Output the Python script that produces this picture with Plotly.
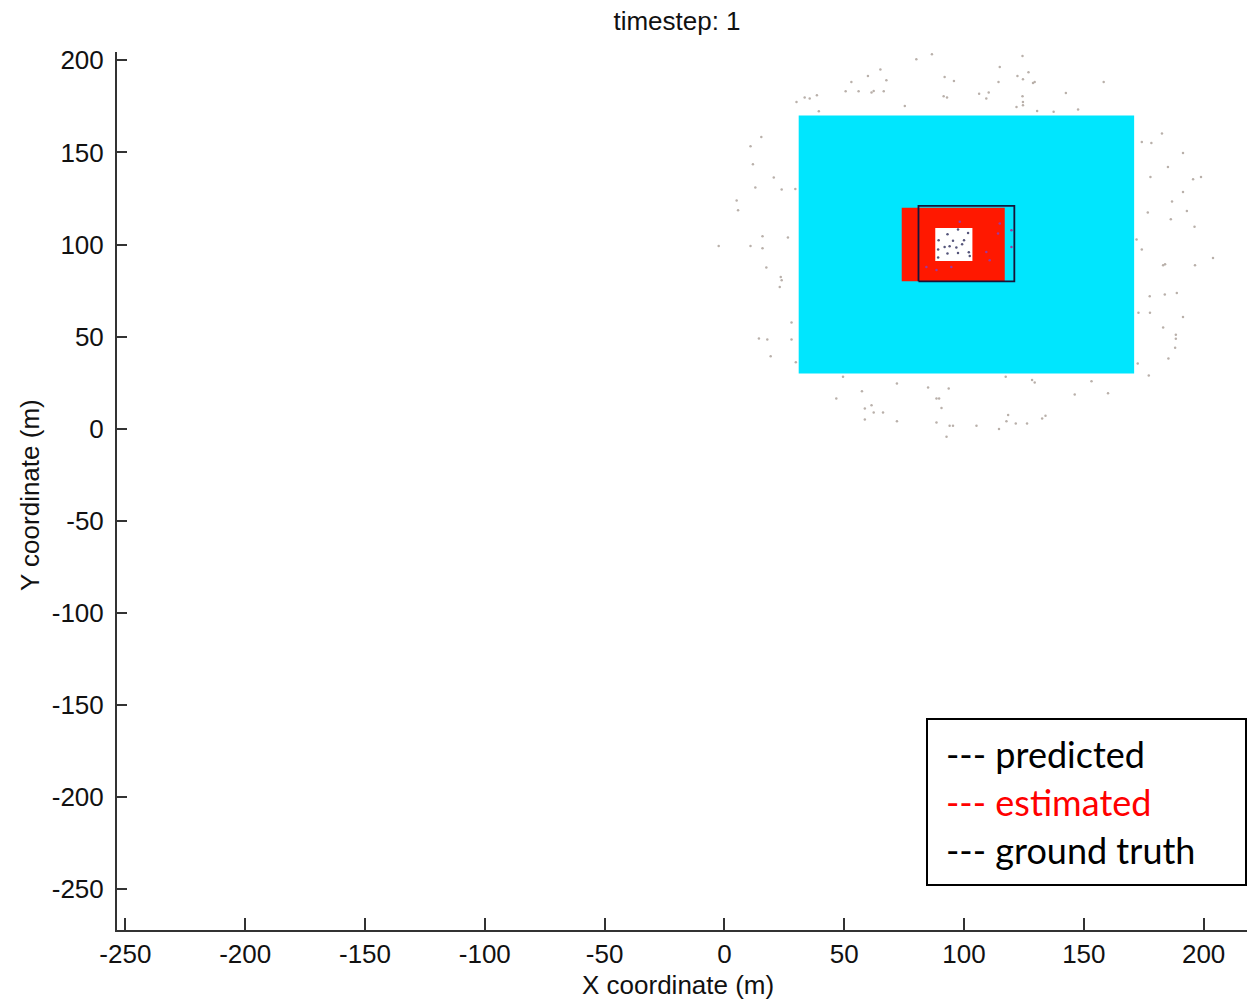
import plotly.graph_objects as go

# ---- data (metres) ----
predicted_box = [31, 171, 30, 170]      # x0, x1, y0, y1 (cyan, predicted region)
estimated_box = [74, 117, 80, 120]      # red, estimated region
truth_box = [81, 121, 80, 121]          # black outline, ground truth
inner_box = [88, 103.5, 91, 109]        # white inner region

particles_x = [30.1, 33.5, 35.6, 38.6, 39.4, 50.6, 53.0, 56.0, 59.9, 61.4, 62.3, 65.1, 66.5, 67.6, 75.3,
               80.1, 86.6, 91.9, 91.5, 92.9, 95.8, 106.3, 109.3, 110.3, 114.4, 114.9, 122.3, 124.4, 124.6,
               126.9, 128.8, 129.5, 124.4, 124.6, 124.6, 121.9, 130.5, 137.4, 142.5, 147.6, 158.3,
               15.4, 10.9, 11.9, 20.6, 12.9, 23.9, 29.6, 5.1, 5.7, 15.9, 26.5, -2.4, 10.9, 15.9, 17.5, 23.5,
               23.9, 23.1, 28.0, 14.4, 17.9, 28.0, 19.3, 29.8,
               182.6, 174.2, 178.2, 191.4, 185.1, 177.8, 195.6, 198.9, 191.4, 186.8, 193.0, 176.7, 186.3,
               196.2, 172.0, 174.2, 203.9, 183.1, 183.9, 196.4, 177.5, 183.8, 188.8, 172.8, 177.6, 191.4,
               183.1, 188.4, 188.4, 188.1, 185.3, 172.5, 177.1,
               49.5, 72.0, 57.4, 85.0, 93.6, 117.4, 128.4, 129.5, 153.2, 160.1, 146.2, 46.7, 88.5, 89.6,
               90.6, 61.4, 58.6, 62.3, 66.2, 58.6, 72.0, 88.5, 94.0, 95.4, 92.7, 105.2, 114.6, 118.4, 117.7,
               121.6, 126.3, 132.6, 134.0]
particles_y = [177.4, 179.8, 179.2, 181.0, 172.3, 183.2, 188.2, 183.2, 191.5, 182.5, 183.3, 195.0, 183.2,
               189.1, 175.2, 200.5, 203.3, 190.9, 180.5, 179.8, 188.8, 181.9, 179.2, 182.5, 188.2, 196.4,
               191.5, 202.3, 189.7, 193.5, 187.7, 188.2, 180.5, 177.4, 175.6, 174.7, 172.5, 172.0, 182.3,
               173.3, 188.2,
               158.4, 153.3, 143.6, 136.4, 130.9, 129.8, 130.2, 123.9, 118.6, 104.5, 103.8, 99.2, 99.2, 98.0,
               87.5, 82.4, 80.6, 77.0, 57.7, 49.0, 48.5, 48.5, 39.4, 36.1,
               160.2, 155.7, 155.1, 149.7, 142.1, 136.7, 135.4, 136.7, 128.5, 123.3, 118.2, 117.4, 113.7,
               109.6, 102.7, 97.3, 92.7, 88.8, 89.3, 88.8, 71.9, 72.9, 73.7, 62.9, 62.9, 60.7, 55.0, 51.0,
               48.8, 43.9, 38.1, 35.4, 28.9,
               28.2, 24.6, 20.4, 22.4, 21.9, 28.2, 26.4, 25.1, 25.8, 19.2, 18.6, 16.4, 16.4, 16.4, 11.3,
               12.8, 11.0, 8.8, 8.8, 5.0, 4.1, 3.4, 1.6, 1.6, -4.4, 1.6, -0.2, 7.4, 4.1, 2.9, 2.9, 5.6, 7.0]

inner_x = [93.1, 97.5, 101.7, 89.4, 95.4, 100.0, 91.9, 94.0, 96.8, 99.2, 89.2, 93.1, 97.5, 102.0, 89.2, 102.4]
inner_y = [105.6, 108.1, 106.3, 102.3, 102.0, 102.3, 98.7, 99.1, 98.4, 100.2, 97.3, 95.1, 95.4, 95.8, 92.9, 93.7]

red_x = [98.2, 114.2, 110.7, 94.7, 88.5, 84.3, 109.3, 114.9, 119.8, 119.8]
red_y = [112.3, 106.0, 91.5, 87.8, 86.1, 87.8, 96.0, 111.4, 107.8, 98.7]

x_ticks = [-250, -200, -150, -100, -50, 0, 50, 100, 150, 200]
y_ticks = [200, 150, 100, 50, 0, -50, -100, -150, -200, -250]
x_range = [-253.5, 218.1]
y_range = [-272.1, 204.5]

legend_lines = [("--- predicted", "#000000"), ("--- estimated", "#ff0000"), ("--- ground truth", "#000000")]

# ---- figure ----
fig = go.Figure()

fig.add_trace(go.Scatter(x=particles_x, y=particles_y, mode="markers",
                         marker=dict(size=2.5, color="#b9b0aa"), hoverinfo="skip", showlegend=False))

def rect(box, fill, line_color=None, width=0):
    fig.add_shape(type="rect", xref="x", yref="y", x0=box[0], x1=box[1], y0=box[2], y1=box[3],
                  fillcolor=fill, line=dict(color=line_color or fill, width=width), layer="below")

rect(predicted_box, "#00e6fe")
rect(estimated_box, "#ff1800")
rect(inner_box, "#ffffff")

fig.add_trace(go.Scatter(x=[truth_box[0], truth_box[1], truth_box[1], truth_box[0], truth_box[0]],
                         y=[truth_box[2], truth_box[2], truth_box[3], truth_box[3], truth_box[2]],
                         mode="lines", line=dict(color="#15153a", width=1.8),
                         hoverinfo="skip", showlegend=False))

fig.add_trace(go.Scatter(x=inner_x, y=inner_y, mode="markers",
                         marker=dict(size=2.5, color="#55557a"), hoverinfo="skip", showlegend=False))
fig.add_trace(go.Scatter(x=red_x, y=red_y, mode="markers",
                         marker=dict(size=2.5, color="#9a3aa0"), hoverinfo="skip", showlegend=False))

tickfont = dict(family="Liberation Sans, Arial, sans-serif", size=26, color="#111111")

fig.update_xaxes(range=x_range, tickvals=x_ticks, ticktext=[str(v) for v in x_ticks],
                 showgrid=False, zeroline=False, showline=True, linecolor="#333333", linewidth=2,
                 ticks="inside", ticklen=12, tickwidth=2, tickcolor="#333333",
                 tickfont=tickfont, ticklabelstandoff=0)
fig.update_yaxes(range=y_range, tickvals=y_ticks, ticktext=[str(v) for v in y_ticks],
                 showgrid=False, zeroline=False, showline=True, linecolor="#333333", linewidth=2,
                 ticks="inside", ticklen=10, tickwidth=2, tickcolor="#333333",
                 tickfont=tickfont, ticklabelstandoff=6)

fig.update_layout(
    width=1247, height=1001,
    margin=dict(l=117, r=0, t=52, b=71),
    paper_bgcolor="white", plot_bgcolor="white",
    title=dict(text="timestep: 1", x=677 / 1247, xanchor="center", y=1 - 21 / 1001, yanchor="middle",
               yref="container", xref="container",
               font=dict(family="Liberation Sans, Arial, sans-serif", size=26, color="#111111")),
    showlegend=False,
)

fig.add_annotation(text="X coordinate (m)", xref="paper", yref="paper", x=(678 - 117) / 1130,
                   y=-(985 - 930) / 878, xanchor="center", yanchor="middle", showarrow=False,
                   font=dict(family="Liberation Sans, Arial, sans-serif", size=26, color="#111111"))
fig.add_annotation(text="Y coordinate (m)", xref="paper", yref="paper", x=-(117 - 30) / 1130,
                   y=(930 - 495) / 878, xanchor="center", yanchor="middle", textangle=-90, showarrow=False,
                   font=dict(family="Liberation Sans, Arial, sans-serif", size=26, color="#111111"))

# legend box
fig.add_shape(type="rect", xref="paper", yref="paper", x0=(927 - 117) / 1130, x1=(1246 - 117) / 1130,
              y0=(930 - 885) / 878, y1=(930 - 719) / 878, line=dict(color="black", width=2),
              fillcolor="white", layer="above")
centers = [754, 802, 850]
for (txt, col), cy in zip(legend_lines, centers):
    fig.add_annotation(text=txt, xref="paper", yref="paper", x=(944 - 117) / 1130, y=(930 - cy) / 878,
                       xanchor="left", yanchor="middle", showarrow=False,
                       font=dict(family="Lato, sans-serif", size=36, color=col))

fig.write_html("out.html")
